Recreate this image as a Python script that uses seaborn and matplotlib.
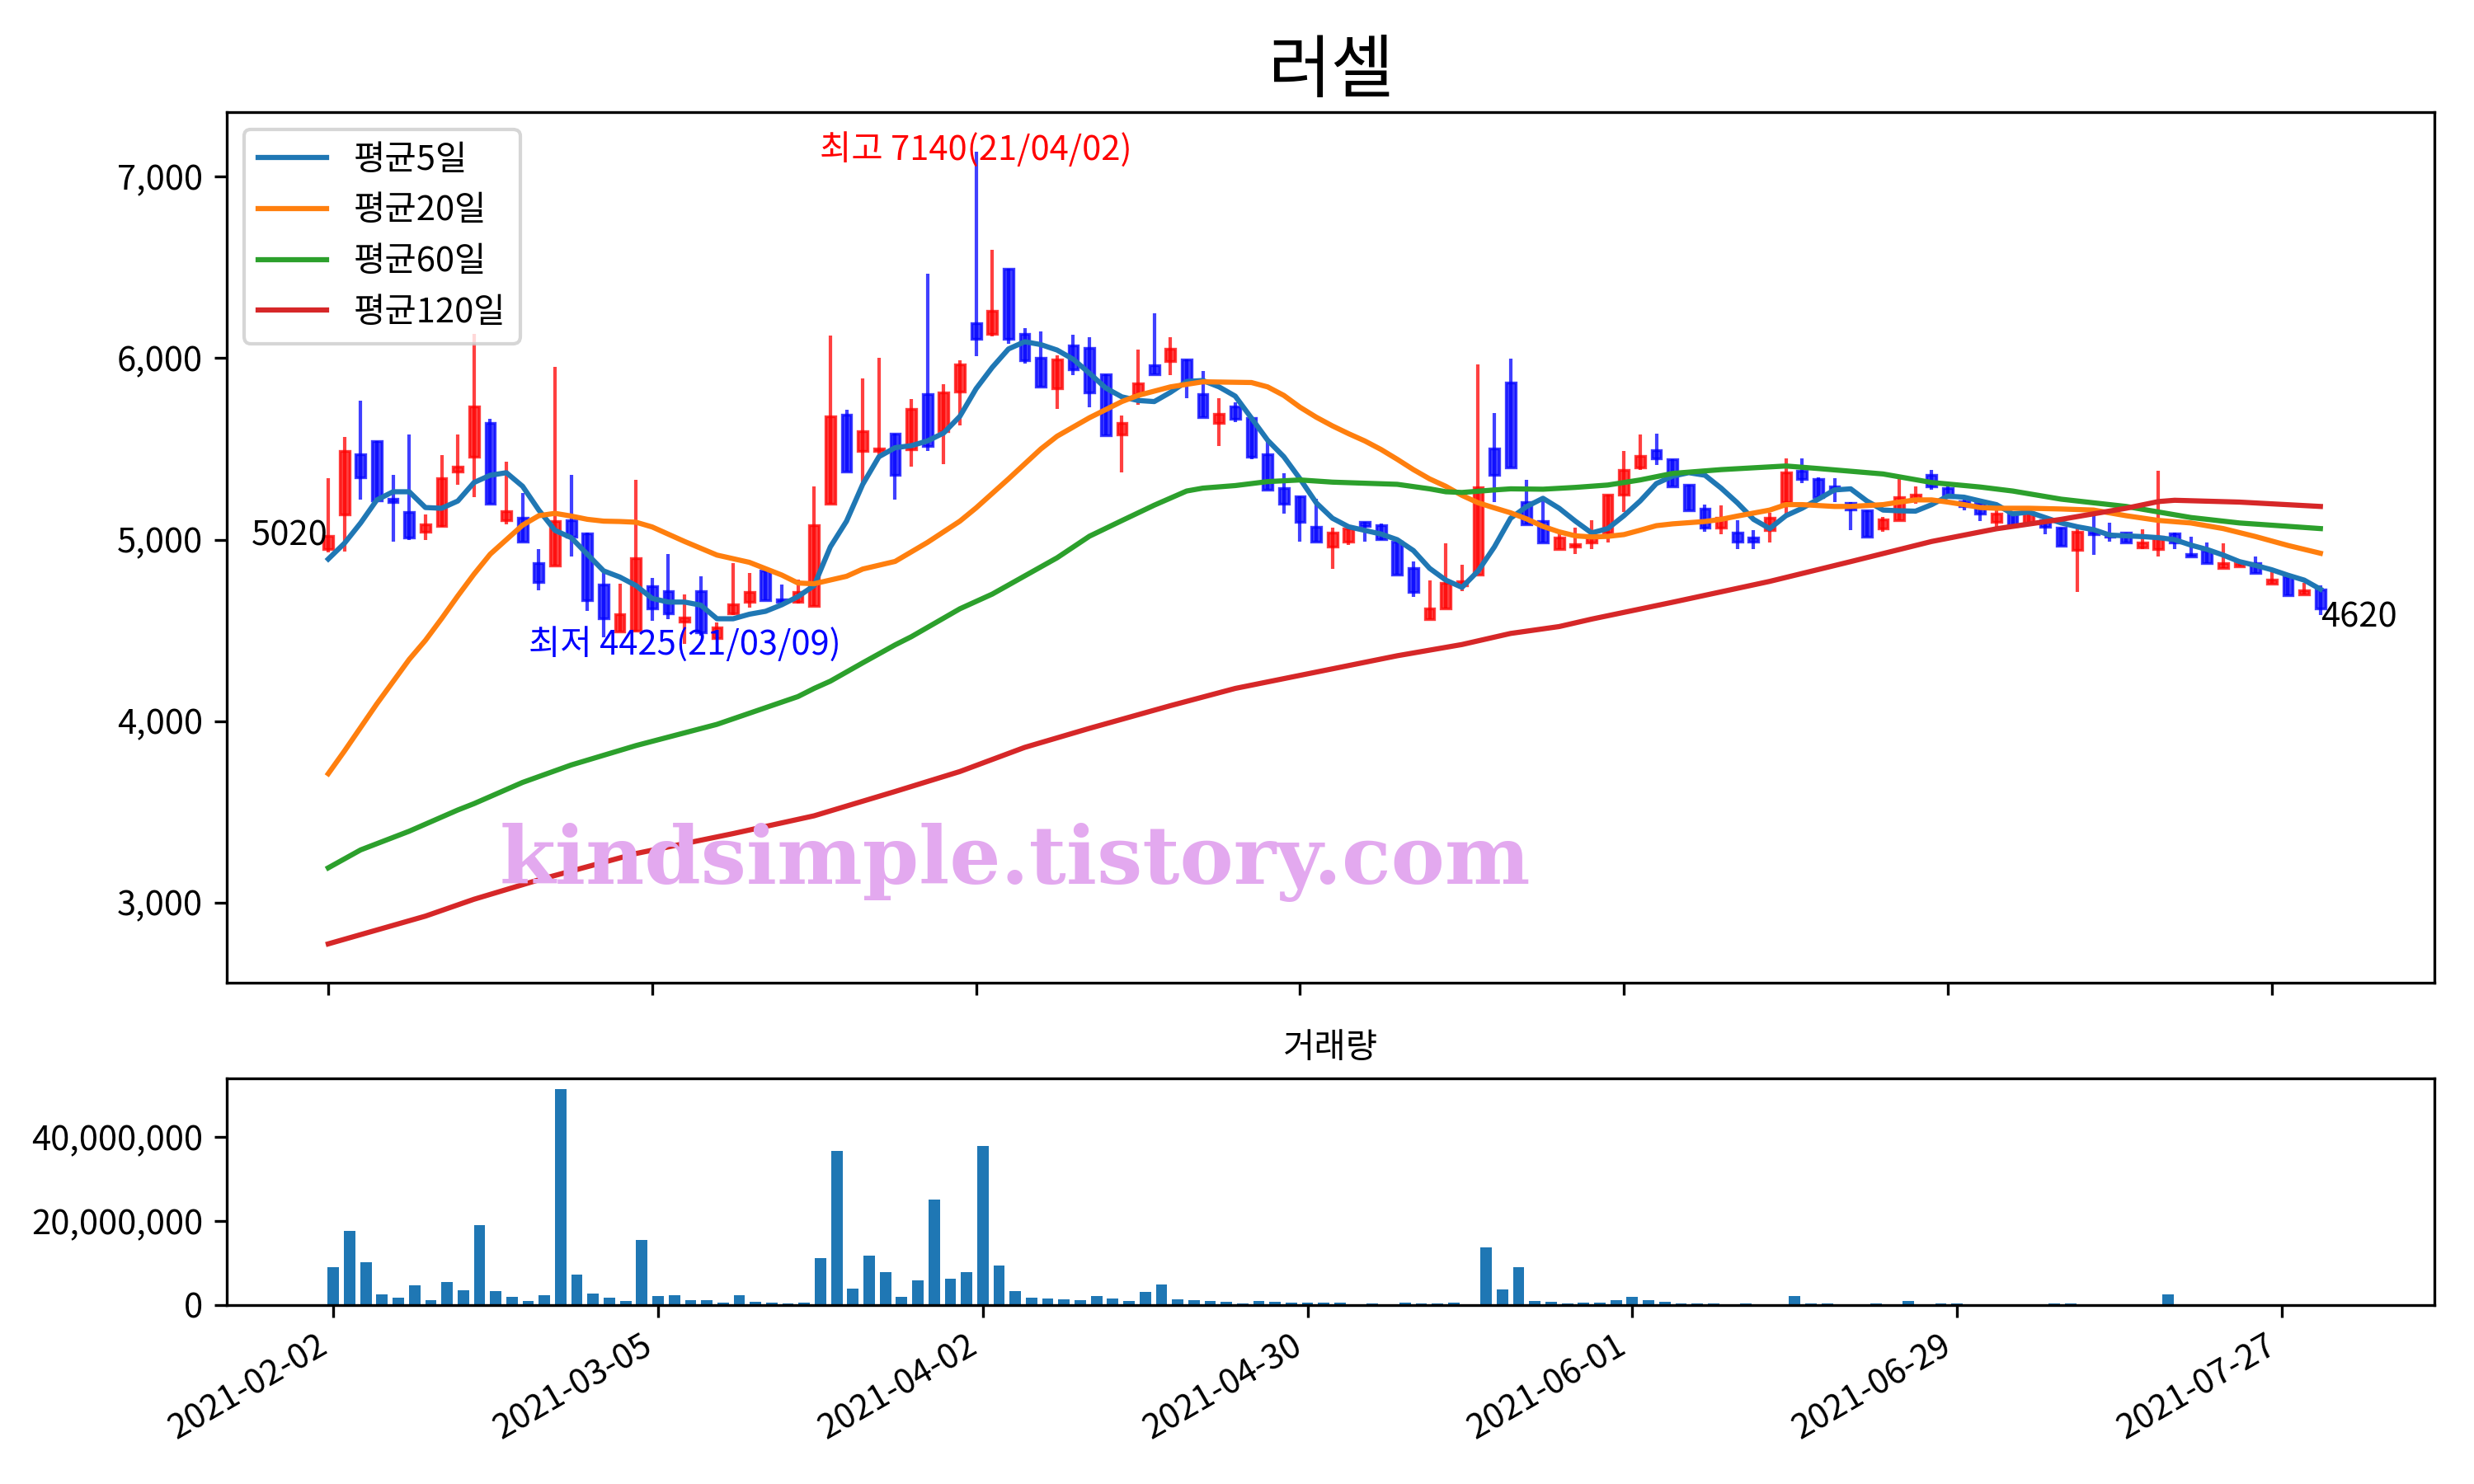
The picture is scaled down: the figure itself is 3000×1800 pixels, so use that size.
import matplotlib
matplotlib.use('Agg')
import matplotlib.pyplot as plt
import matplotlib.ticker as mticker
import seaborn as sns

# daily candles (trading-day index 0..123)
opens = [4950, 5138, 5471, 5544, 5223, 5152, 5045, 5077, 5376, 5457,
         5643, 5106, 5122, 4869, 4858, 5106, 5035, 4751, 4493, 4497,
         4743, 4716, 4550, 4716, 4457, 4595, 4656, 4828, 4670, 4656,
         4635, 5199, 5690, 5487, 5487, 5582, 5497, 5801, 5599, 5816,
         6191, 6136, 6495, 6132, 6002, 5836, 6071, 6055, 5913, 5578,
         5801, 5960, 5984, 5994, 5801, 5645, 5734, 5670, 5471, 5284,
         5240, 5071, 4960, 4990, 5096, 5081, 4990, 4844, 4564, 4623,
         4747, 4808, 5501, 5868, 5209, 5102, 4946, 4960, 4984, 5041,
         5248, 5396, 5493, 5442, 5301, 5169, 5065, 5041, 5010, 5051,
         5207, 5380, 5335, 5294, 5203, 5163, 5061, 5106, 5223, 5355,
         5284, 5213, 5203, 5096, 5142, 5092, 5106, 5065, 4944, 5045,
         5025, 5037, 4956, 4946, 5035, 4919, 4940, 4842, 4852, 4869,
         4757, 4798, 4696, 4727]
highs = [5339, 5564, 5767, 5544, 5355, 5578, 5138, 5467, 5578, 6136,
         5664, 5430, 5258, 4950, 5954, 5355, 5041, 4818, 4757, 5329,
         4791, 4923, 4696, 4798, 4544, 4869, 4818, 4828, 4753, 4781,
         5294, 6126, 5714, 5889, 6004, 5582, 5777, 6465, 5856, 5988,
         7140, 6596, 6495, 6164, 6148, 6014, 6130, 6116, 5913, 5686,
         6047, 6248, 6116, 5994, 5929, 5779, 5755, 5670, 5538, 5365,
         5240, 5223, 5065, 5065, 5096, 5088, 5000, 4879, 4777, 4980,
         4862, 5964, 5696, 5998, 5329, 5223, 5041, 5065, 5106, 5248,
         5487, 5578, 5584, 5442, 5301, 5193, 5187, 5106, 5051, 5146,
         5447, 5447, 5345, 5339, 5207, 5163, 5126, 5349, 5294, 5386,
         5305, 5223, 5213, 5167, 5142, 5163, 5126, 5065, 5061, 5138,
         5092, 5037, 5057, 5380, 5041, 5017, 4984, 4980, 4889, 4909,
         4828, 4798, 4761, 4747]
lows = [4929, 4933, 5219, 5215, 4990, 5000, 5000, 5071, 5301, 5234,
        5197, 5086, 4990, 4720, 4858, 4909, 4605, 4463, 4493, 4493,
        4554, 4564, 4425, 4473, 4452, 4585, 4625, 4666, 4631, 4649,
        4635, 5199, 5376, 5315, 5457, 5219, 5402, 5487, 5416, 5629,
        6010, 6120, 6081, 5970, 5842, 5720, 5909, 5730, 5576, 5369,
        5741, 5913, 5909, 5781, 5674, 5517, 5649, 5442, 5274, 5142,
        4990, 4990, 4838, 4970, 4990, 5000, 4808, 4686, 4564, 4623,
        4716, 4808, 5209, 5396, 5086, 4986, 4946, 4919, 4950, 4984,
        5152, 5386, 5410, 5294, 5163, 5045, 5031, 4946, 4950, 4986,
        5132, 5311, 5234, 5209, 5051, 5015, 5045, 5106, 5197, 5274,
        5230, 5163, 5102, 5067, 5077, 5081, 5031, 4966, 4712, 4915,
        4990, 4986, 4946, 4909, 4950, 4905, 4869, 4842, 4852, 4814,
        4757, 4692, 4696, 4585]
closes = [5020, 5491, 5345, 5215, 5207, 5013, 5085, 5341, 5402, 5735,
          5197, 5159, 4990, 4767, 5102, 5017, 4664, 4568, 4591, 4899,
          4623, 4595, 4570, 4489, 4518, 4645, 4710, 4666, 4656, 4710,
          5081, 5680, 5376, 5599, 5501, 5355, 5720, 5517, 5812, 5964,
          6106, 6262, 6106, 5988, 5842, 5994, 5937, 5812, 5576, 5643,
          5860, 5913, 6051, 5862, 5674, 5694, 5666, 5457, 5274, 5199,
          5096, 4990, 5041, 5061, 5077, 5004, 4808, 4712, 4619, 4761,
          4771, 5290, 5355, 5396, 5086, 4986, 5010, 4974, 5017, 5248,
          5382, 5463, 5447, 5294, 5163, 5065, 5122, 4990, 4990, 5122,
          5369, 5335, 5234, 5274, 5167, 5015, 5112, 5234, 5250, 5294,
          5234, 5183, 5142, 5142, 5077, 5146, 5071, 4966, 5045, 5031,
          5017, 4986, 4986, 5017, 4984, 4905, 4869, 4869, 4873, 4814,
          4781, 4692, 4720, 4620]
# volume in millions of shares
volume_m = [9.05, 17.7, 10.2, 2.56, 1.77, 4.7, 1.2, 5.5, 3.5, 19.1,
            3.3, 2.0, 1.0, 2.4, 51.5, 7.3, 2.75, 1.77, 1.0, 15.5,
            2.2, 2.4, 1.2, 1.2, 0.6, 2.4, 0.8, 0.6, 0.4, 0.6,
            11.2, 36.8, 3.9, 11.8, 7.9, 2.0, 5.9, 25.2, 6.3, 7.9,
            38.0, 9.4, 3.3, 1.77, 1.6, 1.4, 1.2, 2.2, 1.6, 1.0,
            3.1, 4.9, 1.4, 1.2, 1.0, 0.8, 0.4, 1.0, 0.8, 0.6,
            0.6, 0.5, 0.5, 0.1, 0.3, 0.1, 0.5, 0.3, 0.3, 0.5,
            0.1, 13.7, 3.7, 9.0, 0.9, 0.7, 0.3, 0.5, 0.5, 1.1,
            1.9, 1.1, 0.7, 0.3, 0.3, 0.3, 0.1, 0.3, 0.1, 0.1,
            2.1, 0.3, 0.3, 0.1, 0.1, 0.3, 0.1, 0.9, 0.1, 0.3,
            0.3, 0.1, 0.1, 0.1, 0.1, 0.1, 0.3, 0.3, 0.1, 0.1,
            0.1, 0.1, 0.1, 2.5, 0.1, 0.1, 0.1, 0.1, 0.1, 0.1,
            0.1, 0.1, 0.1, 0.1]

# moving averages
ma5 = [4893, 4980, 5092, 5219, 5264, 5264, 5177, 5173, 5213, 5315,
       5355, 5369, 5294, 5163, 5051, 5011, 4919, 4828, 4794, 4747,
       4676, 4656, 4656, 4639, 4564, 4564, 4589, 4605, 4641, 4686,
       4747, 4960, 5102, 5305, 5457, 5507, 5518, 5544, 5588, 5680,
       5832, 5950, 6051, 6091, 6075, 6045, 5994, 5917, 5836, 5787,
       5767, 5761, 5812, 5872, 5877, 5842, 5791, 5670, 5548, 5457,
       5335, 5203, 5118, 5071, 5051, 5031, 5000, 4940, 4842, 4777,
       4737, 4828, 4960, 5118, 5183, 5228, 5173, 5102, 5037, 5061,
       5132, 5213, 5309, 5350, 5369, 5355, 5284, 5203, 5112, 5061,
       5132, 5173, 5223, 5274, 5280, 5213, 5163, 5159, 5157, 5193,
       5240, 5234, 5213, 5193, 5142, 5152, 5122, 5092, 5071, 5055,
       5025, 5021, 5017, 5011, 5000, 4970, 4946, 4915, 4879, 4858,
       4834, 4804, 4777, 4727]
ma20_days = [0, 1, 3, 5, 6, 7, 8, 9, 10, 11, 12, 13, 14, 15, 16, 17, 18, 19,
             20, 21, 22, 24, 26, 28, 29, 30, 32, 33, 35, 37, 39, 40, 41, 42,
             44, 45, 47, 49, 50, 52, 54, 57, 58, 59, 60, 61, 62, 63, 64, 65,
             66, 67, 68, 69, 70, 71, 72, 73, 74, 75, 76, 77, 78, 79, 80, 81,
             82, 83, 85, 86, 87, 89, 90, 91, 93, 94, 96, 97, 98, 99, 100,
             101, 102, 103, 105, 107, 109, 111, 113, 115, 117, 119, 121, 123]
ma20 = [3710, 3835, 4095, 4340, 4445, 4565, 4690, 4810, 4920, 5000, 5080,
        5132, 5145, 5130, 5112, 5102, 5100, 5096, 5070, 5030, 4990, 4915,
        4875, 4805, 4761, 4757, 4798, 4838, 4880, 4985, 5102, 5175, 5255,
        5335, 5500, 5570, 5672, 5761, 5795, 5842, 5870, 5866, 5842, 5795,
        5730, 5675, 5627, 5584, 5544, 5497, 5443, 5386, 5335, 5294, 5244,
        5203, 5175, 5148, 5114, 5073, 5043, 5021, 5015, 5018, 5028, 5052,
        5077, 5087, 5100, 5112, 5130, 5163, 5193, 5193, 5183, 5183, 5193,
        5207, 5219, 5219, 5207, 5193, 5177, 5173, 5173, 5169, 5163, 5132,
        5106, 5092, 5061, 5017, 4968, 4925]
ma60_days = [0, 2, 5, 8, 9, 12, 15, 19, 24, 29, 30, 31, 33, 35, 36, 39, 41,
             42, 45, 47, 49, 51, 53, 54, 56, 58, 60, 62, 64, 66, 68, 69, 70,
             72, 73, 75, 77, 79, 81, 83, 86, 90, 92, 96, 99, 102, 104, 107,
             111, 115, 118, 123]
ma60 = [3191, 3290, 3393, 3510, 3545, 3662, 3758, 3865, 3982, 4135, 4180,
        4220, 4321, 4420, 4465, 4619, 4700, 4750, 4900, 5019, 5105, 5190,
        5268, 5284, 5298, 5320, 5329, 5317, 5311, 5305, 5280, 5264, 5260,
        5274, 5280, 5278, 5288, 5301, 5329, 5365, 5386, 5406, 5392, 5362,
        5315, 5290, 5268, 5223, 5183, 5122, 5092, 5061]
ma120_days = [0, 6, 9, 13, 19, 25, 30, 35, 39, 43, 47, 52, 56, 61, 66, 70,
              73, 76, 78, 83, 89, 94, 99, 103, 107, 111, 113, 114, 118, 123]
ma120 = [2772, 2925, 3018, 3125, 3270, 3380, 3478, 3612, 3722, 3855, 3960,
         4085, 4180, 4270, 4360, 4422, 4483, 4521, 4562, 4655, 4770, 4879,
         4990, 5060, 5112, 5173, 5210, 5217, 5207, 5183]

tick_days = [0, 20, 40, 60, 80, 100, 120]
tick_dates = ['2021-02-02', '2021-03-05', '2021-04-02', '2021-04-30',
              '2021-06-01', '2021-06-29', '2021-07-27']

plt.rcParams['font.family'] = ['Noto Sans CJK KR', 'DejaVu Sans']

fig = plt.figure(figsize=(10, 6), dpi=300)
ax = fig.add_axes([0.0917, 0.3378, 0.8923, 0.5866])
ax2 = fig.add_axes([0.0917, 0.1206, 0.8923, 0.1527])

days = list(range(len(closes)))
colors = ['r' if c >= o else 'b' for o, c in zip(opens, closes)]
bottoms = [min(o, c) for o, c in zip(opens, closes)]
heights = [abs(c - o) for o, c in zip(opens, closes)]

ax.vlines(days, lows, highs, colors=colors, linewidth=1, alpha=0.75, zorder=1)
ax.bar(days, heights, bottom=bottoms, width=0.6, color=colors,
       edgecolor=colors, linewidth=0.8, alpha=0.75, zorder=2)

sns.lineplot(x=days, y=ma5, ax=ax, color='tab:blue', linewidth=1.5, label='평균5일', zorder=3)
sns.lineplot(x=ma20_days, y=ma20, ax=ax, color='tab:orange', linewidth=1.5, label='평균20일', zorder=3)
sns.lineplot(x=ma60_days, y=ma60, ax=ax, color='tab:green', linewidth=1.5, label='평균60일', zorder=3)
sns.lineplot(x=ma120_days, y=ma120, ax=ax, color='tab:red', linewidth=1.5, label='평균120일', zorder=3)

ax.text(40, 7150, '최고 7140(21/04/02)', color='red', ha='center', va='center', fontsize=10)
ax.text(22, 4425, '최저 4425(21/03/09)', color='blue', ha='center', va='center', fontsize=10)
ax.text(0, 5020, '5020', ha='right', va='center', fontsize=10)
ax.text(123, 4570, '4620', ha='left', va='center', fontsize=10)
ax.text(0.357, 0.1136, 'kindsimple.tistory.com', transform=ax.transAxes,
        ha='center', va='baseline', fontsize=23.5, fontweight='bold',
        family='DejaVu Serif', color='#e3a9ef', zorder=5)

ax.set_title('러셀', fontsize=20)
ax.set_xlim(-6.26, 130.04)
ax.set_ylim(2558, 7356)
ax.set_xticks(tick_days)
ax.tick_params(labelbottom=False)
ax.set_xlabel('')
ax.set_ylabel('')
ax.yaxis.set_major_formatter(mticker.StrMethodFormatter('{x:,.0f}'))
ax.legend(loc='upper left')

ax2.bar(days, [v * 1e6 for v in volume_m], width=0.7, color='tab:blue')
ax2.set_title('거래량', fontsize=10)
ax2.set_xlim(-6.56, 129.4)
ax2.set_ylim(0, 54.0e6)
ax2.set_xticks(tick_days)
ax2.set_xticklabels(tick_dates, rotation=30, ha='right')
ax2.set_yticks([0, 20e6, 40e6])
ax2.yaxis.set_major_formatter(mticker.StrMethodFormatter('{x:,.0f}'))

fig.savefig('out.png', dpi=300)
